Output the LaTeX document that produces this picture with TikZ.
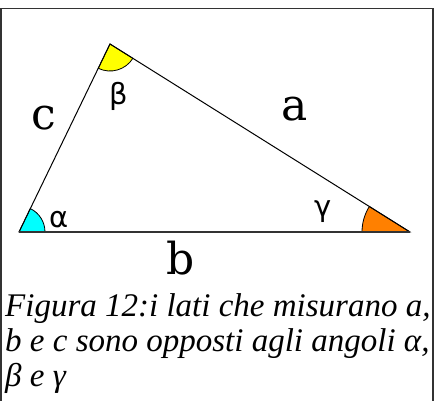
\documentclass[tikz,border=0pt]{standalone}
\usepackage{fontspec}
\setmainfont{Liberation Serif}
\newfontfamily\labfont{DejaVu Serif}
\newfontfamily\grkfont{DejaVu Sans}
\definecolor{cy}{RGB}{0,255,255}
\definecolor{ye}{RGB}{255,255,0}
\definecolor{or}{RGB}{255,128,0}
\begin{document}
\begin{tikzpicture}[x=1pt,y=1pt,
  side/.style={draw=black,line width=1pt},
  angfill/.style={draw=black,line width=0.8pt},
  lab/.style={inner sep=0pt,font=\labfont\fontsize{44}{44}\selectfont},
  grk/.style={inner sep=0pt,font=\grkfont\fontsize{29}{29}\selectfont},
  captxt/.style={inner sep=0pt,anchor=base west,font=\itshape\fontsize{33}{33}\selectfont}]
\useasboundingbox (0,0) rectangle (436,401);
\begin{scope}
\clip (0,0) rectangle (436,401);
\draw[draw=black!80,line width=1.5pt] (1,392.5) rectangle (433,-10);
\end{scope}
\coordinate (A) at (19,169);
\coordinate (B) at (110,357);
\coordinate (C) at (410,169);
\filldraw[angfill,fill=cy] (A) -- ++(0:26) arc[start angle=0,end angle=64.2,radius=26] -- cycle;
\filldraw[angfill,fill=ye] (B) -- ++(244.2:27) arc[start angle=244.2,end angle=327.9,radius=27] -- cycle;
\filldraw[angfill,fill=or] (C) -- ++(147.9:48) arc[start angle=147.9,end angle=180,radius=48] -- cycle;
\draw[side] (A) -- (B) -- (C);
\draw[side,draw=black!80,line width=1.5pt] (A) -- (C);
\node[lab,anchor=base] (lc) at (44,271) {c};
\node[lab,anchor=base] (la) at (295,280) {a};
\node[lab,anchor=base] (lb) at (181,126) {b};
\node[grk] (gb) at (118.5,305) {β};
\node[grk] (ga) at (59,181) {α};
\node[grk] (gg) at (323.5,189.5) {γ};
\node[captxt] (c1) at (5,84.3) {Figura 12:i lati che misurano a,};
\node[captxt] (c2) at (5,49.3) {b e c sono opposti agli angoli α,};
\node[captxt] (c3) at (5,14.3) {β e γ};
\end{tikzpicture}
\end{document}
